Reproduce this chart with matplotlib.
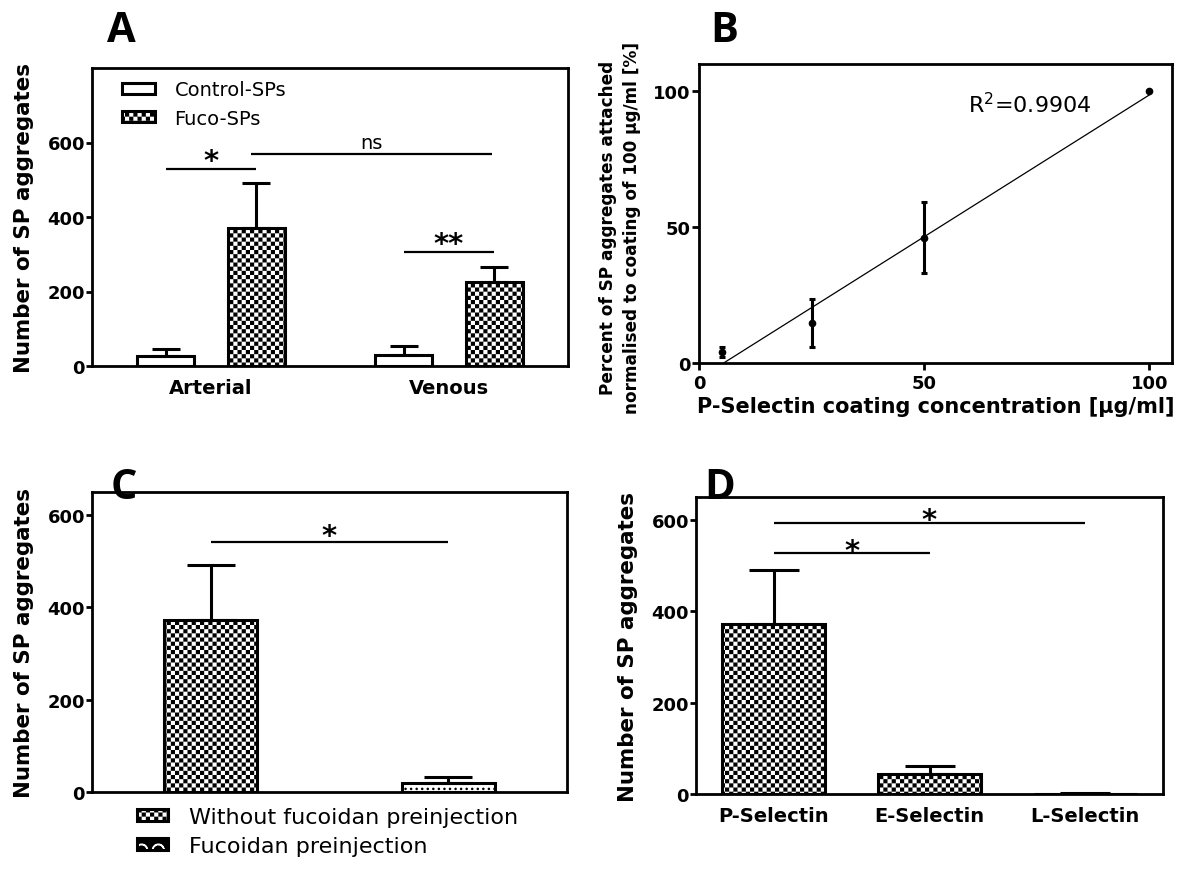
import numpy as np
import matplotlib
matplotlib.use("Agg")
import matplotlib.pyplot as plt
import matplotlib.hatch as mhatch
from matplotlib.path import Path
from matplotlib.patches import Patch
from matplotlib.legend_handler import HandlerTuple

# ---------------- data ----------------
# Panel A
a_groups = ["Arterial", "Venous"]
a_series = ["Control-SPs", "Fuco-SPs"]
a_control = [27, 30]
a_control_err = [18, 24]
a_fuco = [371, 226]
a_fuco_err = [119, 40]
a_yticks = [0, 200, 400, 600]
# significance bars: (x_start, x_end, y, label)
a_sig = [(-0.19, 0.19, 530, "*"), (0.17, 1.18, 568, "ns"), (0.81, 1.19, 307, "**")]

# Panel B
b_conc = [5, 25, 50, 100]
b_pct = [4.1, 14.8, 46.1, 100]
b_err = [1.8, 8.8, 13.0, 0]
b_ticks = [0, 50, 100]
b_r2 = "0.9904"

# Panel C
c_labels = ["Without fucoidan preinjection", "Fucoidan preinjection"]
c_vals = [372, 20]
c_err = [119, 13]
c_sig = [(0, 1, 541, "*")]

# Panel D
d_labels = ["P-Selectin", "E-Selectin", "L-Selectin"]
d_vals = [371, 44, 1]
d_err = [119, 18, 2]
d_sig = [(0, 1, 527, "*"), (0, 2, 594, "*")]

# ---------------- checkerboard hatch ----------------
DPI = 100
HATCH_LW = 1.0
CHECKER_SHRINK = 0.5 * HATCH_LW * (DPI / 72.0) / DPI


class CheckerHatch(mhatch.HatchPatternBase):
    def __init__(self, hatch, density):
        n = int(hatch.count("*") * density)
        if n % 2:
            n += 1
        self.n = n
        self.num_vertices = (n * n // 2) * 5 if n else 0

    def set_vertices_and_codes(self, vertices, codes):
        n = self.n
        s = 1.0 / n
        sh = CHECKER_SHRINK
        base = np.array([[sh, sh], [s - sh, sh], [s - sh, s - sh],
                         [sh, s - sh], [sh, sh]])
        k = 0
        for i in range(n):
            for j in range(n):
                if (i + j) % 2 == 0:
                    vertices[k:k + 5] = base + (i * s, j * s)
                    codes[k] = Path.MOVETO
                    codes[k + 1:k + 4] = Path.LINETO
                    codes[k + 4] = Path.CLOSEPOLY
                    k += 5


mhatch._hatch_types = [t for t in mhatch._hatch_types
                       if t is not mhatch.Stars] + [CheckerHatch]
CHECK = "****"

plt.rcParams["font.family"] = ["DejaVu Sans"]
plt.rcParams["hatch.linewidth"] = HATCH_LW
plt.rcParams["axes.linewidth"] = 2.0

fig = plt.figure(figsize=(11.96, 8.7), dpi=DPI)
W, H = 1196.0, 870.0


def add_axes(l, t, r, b):
    return fig.add_axes([l / W, 1 - b / H, (r - l) / W, (b - t) / H])


axA = add_axes(92, 69, 568, 367)
axB = add_axes(699, 65, 1172, 364)
axC = add_axes(92, 493, 567, 793)
axD = add_axes(696, 498, 1163, 795)

BAR_LW = 2.2
ERR_KW = dict(fmt="none", ecolor="black", elinewidth=2.2, capthick=2.2, zorder=3)


def style_bar_axis(ax, yticks):
    ax.set_yticks(yticks)
    ax.tick_params(axis="y", direction="out", length=4, width=2, pad=1,
                   labelsize=13)
    ax.tick_params(axis="x", length=0, pad=9, labelsize=14)
    for lab in ax.get_yticklabels() + ax.get_xticklabels():
        lab.set_fontweight("bold")
    for sp in ax.spines.values():
        sp.set_linewidth(2.0)


def sig(ax, items, star_dy=0, fs=21):
    for x0, x1, y, lab in items:
        ax.plot([x0, x1], [y, y], color="black", lw=1.6, solid_capstyle="butt")
        xm = (x0 + x1) / 2
        if lab == "ns":
            ax.annotate(lab, (xm, y), xytext=(0, 1.5), textcoords="offset points",
                        ha="center", va="bottom", fontsize=14)
        else:
            ax.annotate(lab, (xm, y), xytext=(0, star_dy), textcoords="offset points",
                        ha="center", va="baseline", fontsize=fs, fontweight="bold")


# ---------------- Panel A ----------------
xa = np.arange(len(a_groups))
off, bw = 0.19, 0.24
bc = axA.bar(xa - off, a_control, bw, facecolor="white", edgecolor="black",
             linewidth=BAR_LW, label=a_series[0], zorder=2)
bf = axA.bar(xa + off, a_fuco, bw, facecolor="white", edgecolor="black",
             linewidth=BAR_LW, hatch=CHECK, label=a_series[1], zorder=2)
axA.errorbar(xa - off, a_control, yerr=[np.zeros(len(xa)), a_control_err],
             capsize=10, **ERR_KW)
axA.errorbar(xa + off, a_fuco, yerr=[np.zeros(len(xa)), a_fuco_err],
             capsize=10, **ERR_KW)
axA.set_xlim(-0.5, 1.5)
axA.set_ylim(0, 800)
axA.set_xticks(xa)
axA.set_xticklabels(a_groups)
style_bar_axis(axA, a_yticks)
axA.set_ylabel("Number of SP aggregates", fontsize=15.4, fontweight="bold")
axA.yaxis.set_label_coords(-0.122, 0.5)
sig(axA, a_sig, star_dy=0)
axA.legend(loc="upper left", bbox_to_anchor=(122 / W, 1 - 81 / H),
           bbox_transform=fig.transFigure, frameon=False, fontsize=14,
           handlelength=1.7, handleheight=0.5, handletextpad=1.0,
           labelspacing=0.5, borderpad=0, borderaxespad=0)

# ---------------- Panel B ----------------
axB.errorbar(b_conc, b_pct, yerr=b_err, fmt="o", color="black", markersize=4.5,
             elinewidth=2.2, capsize=2.5, capthick=2.2, zorder=3)
m, c = np.polyfit(b_conc, b_pct, 1)
xfit = np.array([-c / m, max(b_conc)])
axB.plot(xfit, m * xfit + c, color="black", lw=0.9, zorder=2)
axB.set_xlim(0, 105)
axB.set_ylim(0, 110)
axB.set_xticks(b_ticks)
axB.set_yticks(b_ticks)
axB.tick_params(axis="both", direction="out", length=5, width=2, labelsize=13)
axB.tick_params(axis="y", pad=1)
axB.tick_params(axis="x", pad=3)
for lab in axB.get_xticklabels() + axB.get_yticklabels():
    lab.set_fontweight("bold")
axB.set_xlabel("P-Selectin coating concentration [µg/ml]", fontsize=15,
               fontweight="bold", labelpad=3)
axB.set_ylabel("Percent of SP aggregates attached\nnormalised to coating of 100 µg/ml [%]",
               fontsize=12.2, fontweight="bold", linespacing=1.45)
axB.yaxis.set_label_coords(-0.123, 0.455)
axB.text(0.569, 0.839, r"R$^2$=" + b_r2, transform=axB.transAxes,
         fontsize=16, va="baseline", ha="left")

# ---------------- Panel C ----------------
xc = np.arange(len(c_vals))
cb = axC.bar(xc, c_vals, 0.39, facecolor="white", edgecolor="black",
             linewidth=BAR_LW, zorder=2)
cb[0].set_hatch(CHECK)
cb[1].set_hatch("...")
axC.errorbar(xc, c_vals, yerr=[np.zeros(len(xc)), c_err], capsize=17, **ERR_KW)
axC.set_xlim(-0.5, 1.5)
axC.set_ylim(0, 650)
axC.set_xticks([])
style_bar_axis(axC, [0, 200, 400, 600])
axC.set_ylabel("Number of SP aggregates", fontsize=15.4, fontweight="bold")
axC.yaxis.set_label_coords(-0.122, 0.5)
sig(axC, c_sig, star_dy=-1)
h1 = Patch(facecolor="white", edgecolor="black", linewidth=BAR_LW, hatch=CHECK)
h2 = (Patch(facecolor="black", edgecolor="white", linewidth=0, hatch="O"),
      Patch(facecolor="none", edgecolor="black", linewidth=BAR_LW))
axC.legend([h1, h2], c_labels, loc="upper left",
           bbox_to_anchor=(137 / W, 1 - 808 / H), bbox_transform=fig.transFigure,
           frameon=False, fontsize=16, handlelength=1.4, handleheight=0.45,
           handletextpad=0.95, labelspacing=0.42, borderpad=0, borderaxespad=0,
           handler_map={tuple: HandlerTuple(ndivide=1, pad=0)})

# ---------------- Panel D ----------------
xd = np.arange(len(d_vals))
axD.bar(xd, d_vals, 0.66, facecolor="white", edgecolor="black",
        linewidth=BAR_LW, hatch=CHECK, zorder=2)
axD.errorbar(xd, d_vals, yerr=[np.zeros(len(xd)), d_err], capsize=18, **ERR_KW)
axD.set_xlim(-0.5, 2.5)
axD.set_ylim(0, 650)
axD.set_xticks(xd)
axD.set_xticklabels(d_labels)
style_bar_axis(axD, [0, 200, 400, 600])
axD.set_ylabel("Number of SP aggregates", fontsize=15.4, fontweight="bold")
axD.yaxis.set_label_coords(-0.124, 0.5)
sig(axD, d_sig, star_dy=-4)

# ---------------- panel letters ----------------
for lab, (px, py) in {"A": (121, 31), "B": (724, 31), "C": (124, 489),
                      "D": (720, 489)}.items():
    fig.text(px / W, 1 - py / H, lab, fontsize=30, fontweight="bold",
             family=["Open Sans", "DejaVu Sans"], ha="center", va="center")

fig.savefig("out.png", dpi=DPI)
